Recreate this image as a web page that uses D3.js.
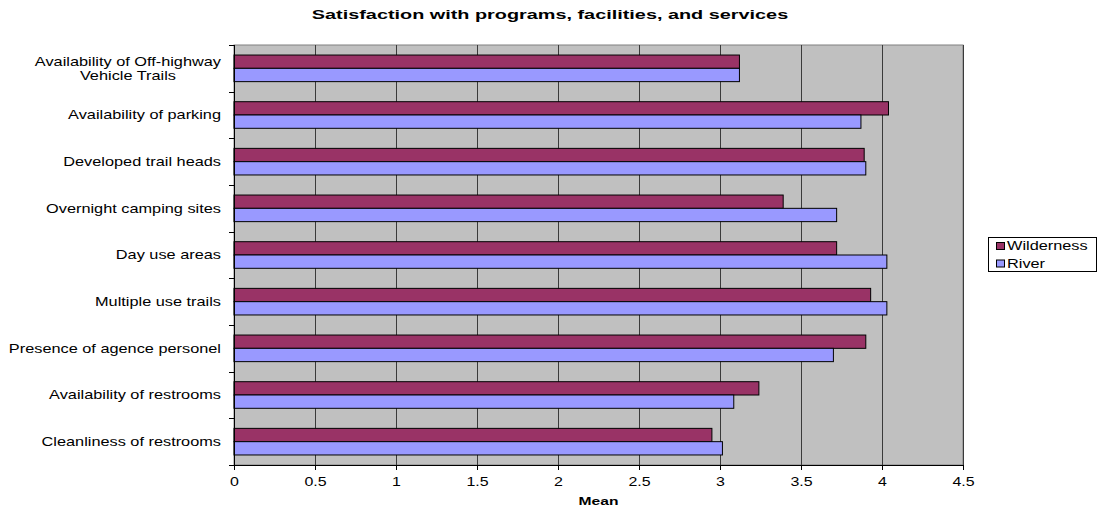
<!DOCTYPE html>
<html><head><meta charset="utf-8">
<script src="https://cdn.jsdelivr.net/npm/d3@7"></script>
<style>body{margin:0;background:#fff;} svg{display:block;font-family:"Liberation Sans",Arial,sans-serif;}</style>
</head><body>
<svg id="c" width="1101" height="510"></svg>
<script>
const categories = ["Availability of Off-highway Vehicle Trails","Availability of parking","Developed trail heads","Overnight camping sites","Day use areas","Multiple use trails","Presence of agence personel","Availability of restrooms","Cleanliness of restrooms"];
const categoryLines = [["Availability of Off-highway","Vehicle Trails"],["Availability of parking"],["Developed trail heads"],["Overnight camping sites"],["Day use areas"],["Multiple use trails"],["Presence of agence personel"],["Availability of restrooms"],["Cleanliness of restrooms"]];
const seriesNames = ["Wilderness","River"];
const wilderness = [3.12, 4.04, 3.89, 3.39, 3.72, 3.93, 3.90, 3.24, 2.95];
const river = [3.12, 3.87, 3.90, 3.72, 4.03, 4.03, 3.70, 3.085, 3.015];
const xTicks = [0,0.5,1,1.5,2,2.5,3,3.5,4,4.5];
const colors = ["#993366","#9999FF"];

const svg = d3.select("#c");
const L=234, R=963, T=45, B=465;
const SX = 1.33;
const SY = 1.36;
const x = d3.scaleLinear().domain([0,4.5]).range([L,R]);
const y = d3.scaleBand().domain(categories).range([T,B]).paddingInner(0.43).paddingOuter(0.215);
const inner = d3.scaleBand().domain(seriesNames).range([0,y.bandwidth()]);

svg.append("rect").attr("x",L).attr("y",T).attr("width",R-L).attr("height",B-T).attr("fill","#C0C0C0").attr("stroke","#808080").attr("stroke-width",1);
svg.append("g").selectAll("line").data(xTicks.slice(1)).join("line")
  .attr("x1",d=>Math.round(x(d))+0.5).attr("x2",d=>Math.round(x(d))+0.5).attr("y1",T).attr("y2",B)
  .attr("stroke","#3a3a3a").attr("stroke-width",1);

const data = [wilderness, river];
seriesNames.forEach((s,i)=>{
  svg.append("g").selectAll("rect").data(categories).join("rect")
    .attr("x",x(0)).attr("y",(d)=>y(d)+inner(s))
    .attr("width",(d,j)=>x(data[i][j])-x(0)).attr("height",inner.bandwidth())
    .attr("fill",colors[i]).attr("stroke","#000").attr("stroke-width",1);
});

// x axis
const xa = svg.append("g").attr("transform",`translate(0,${B})`)
  .call(d3.axisBottom(x).tickValues(xTicks).tickFormat(d=>d3.format("")(d)).tickSizeOuter(0).tickSize(5));
xa.select(".domain").attr("stroke","#000");
xa.selectAll(".tick line").attr("stroke","#000");
xa.selectAll("text").attr("font-size",12).attr("font-family","Liberation Sans, Arial, sans-serif").attr("fill","#000")
  .attr("y",21).attr("dy",0).attr("transform",`scale(${SX},1)`);

// y axis
svg.append("line").attr("x1",L+0.5).attr("x2",L+0.5).attr("y1",T).attr("y2",B).attr("stroke","#000");
const step = (B-T)/categories.length;
svg.append("g").selectAll("line").data(d3.range(categories.length+1)).join("line")
  .attr("x1",L-5).attr("x2",L).attr("y1",d=>Math.round(T+d*step)+0.5).attr("y2",d=>Math.round(T+d*step)+0.5).attr("stroke","#000");

// category labels
categories.forEach((c,i)=>{
  const lines = categoryLines[i];
  const cy = y(c)+y.bandwidth()/2;
  const g = svg.append("g").attr("transform",`translate(221,${cy}) scale(${SY},1)`);
  if(lines.length===1){
    g.append("text").attr("font-size",12).attr("dy","0.35em").attr("text-anchor","end").text(lines[0]);
  } else {
    const t = g.append("text").attr("font-size",12).attr("y",-6.5).attr("dy","0.35em").attr("text-anchor","end").text(lines[0]);
    const w = t.node().getComputedTextLength();
    g.append("text").attr("font-size",12).attr("x",-w/2).attr("y",7).attr("dy","0.35em").attr("text-anchor","middle").text(lines[1]);
  }
});

// title
svg.append("g").attr("transform","translate(550,19) scale(1.47,1)")
  .append("text").attr("text-anchor","middle").attr("font-size",13.5).attr("font-weight","bold").text("Satisfaction with programs, facilities, and services");
// x axis title
svg.append("g").attr("transform",`translate(${(L+R)/2},505) scale(1.42,1)`)
  .append("text").attr("text-anchor","middle").attr("font-size",11).attr("font-weight","bold").text("Mean");

// legend
const lg = svg.append("g");
lg.append("rect").attr("x",988.5).attr("y",237.5).attr("width",108).attr("height",34).attr("fill","#fff").attr("stroke","#000");
seriesNames.forEach((s,i)=>{
  lg.append("rect").attr("x",996.5).attr("y",242.5+i*17.5).attr("width",8).attr("height",7).attr("fill",colors[i]).attr("stroke","#000");
  lg.append("g").attr("transform",`translate(1007,${246+i*17.5}) scale(1.36,1)`)
    .append("text").attr("dy","0.35em").attr("font-size",12).text(s);
});
</script>
</body></html>
